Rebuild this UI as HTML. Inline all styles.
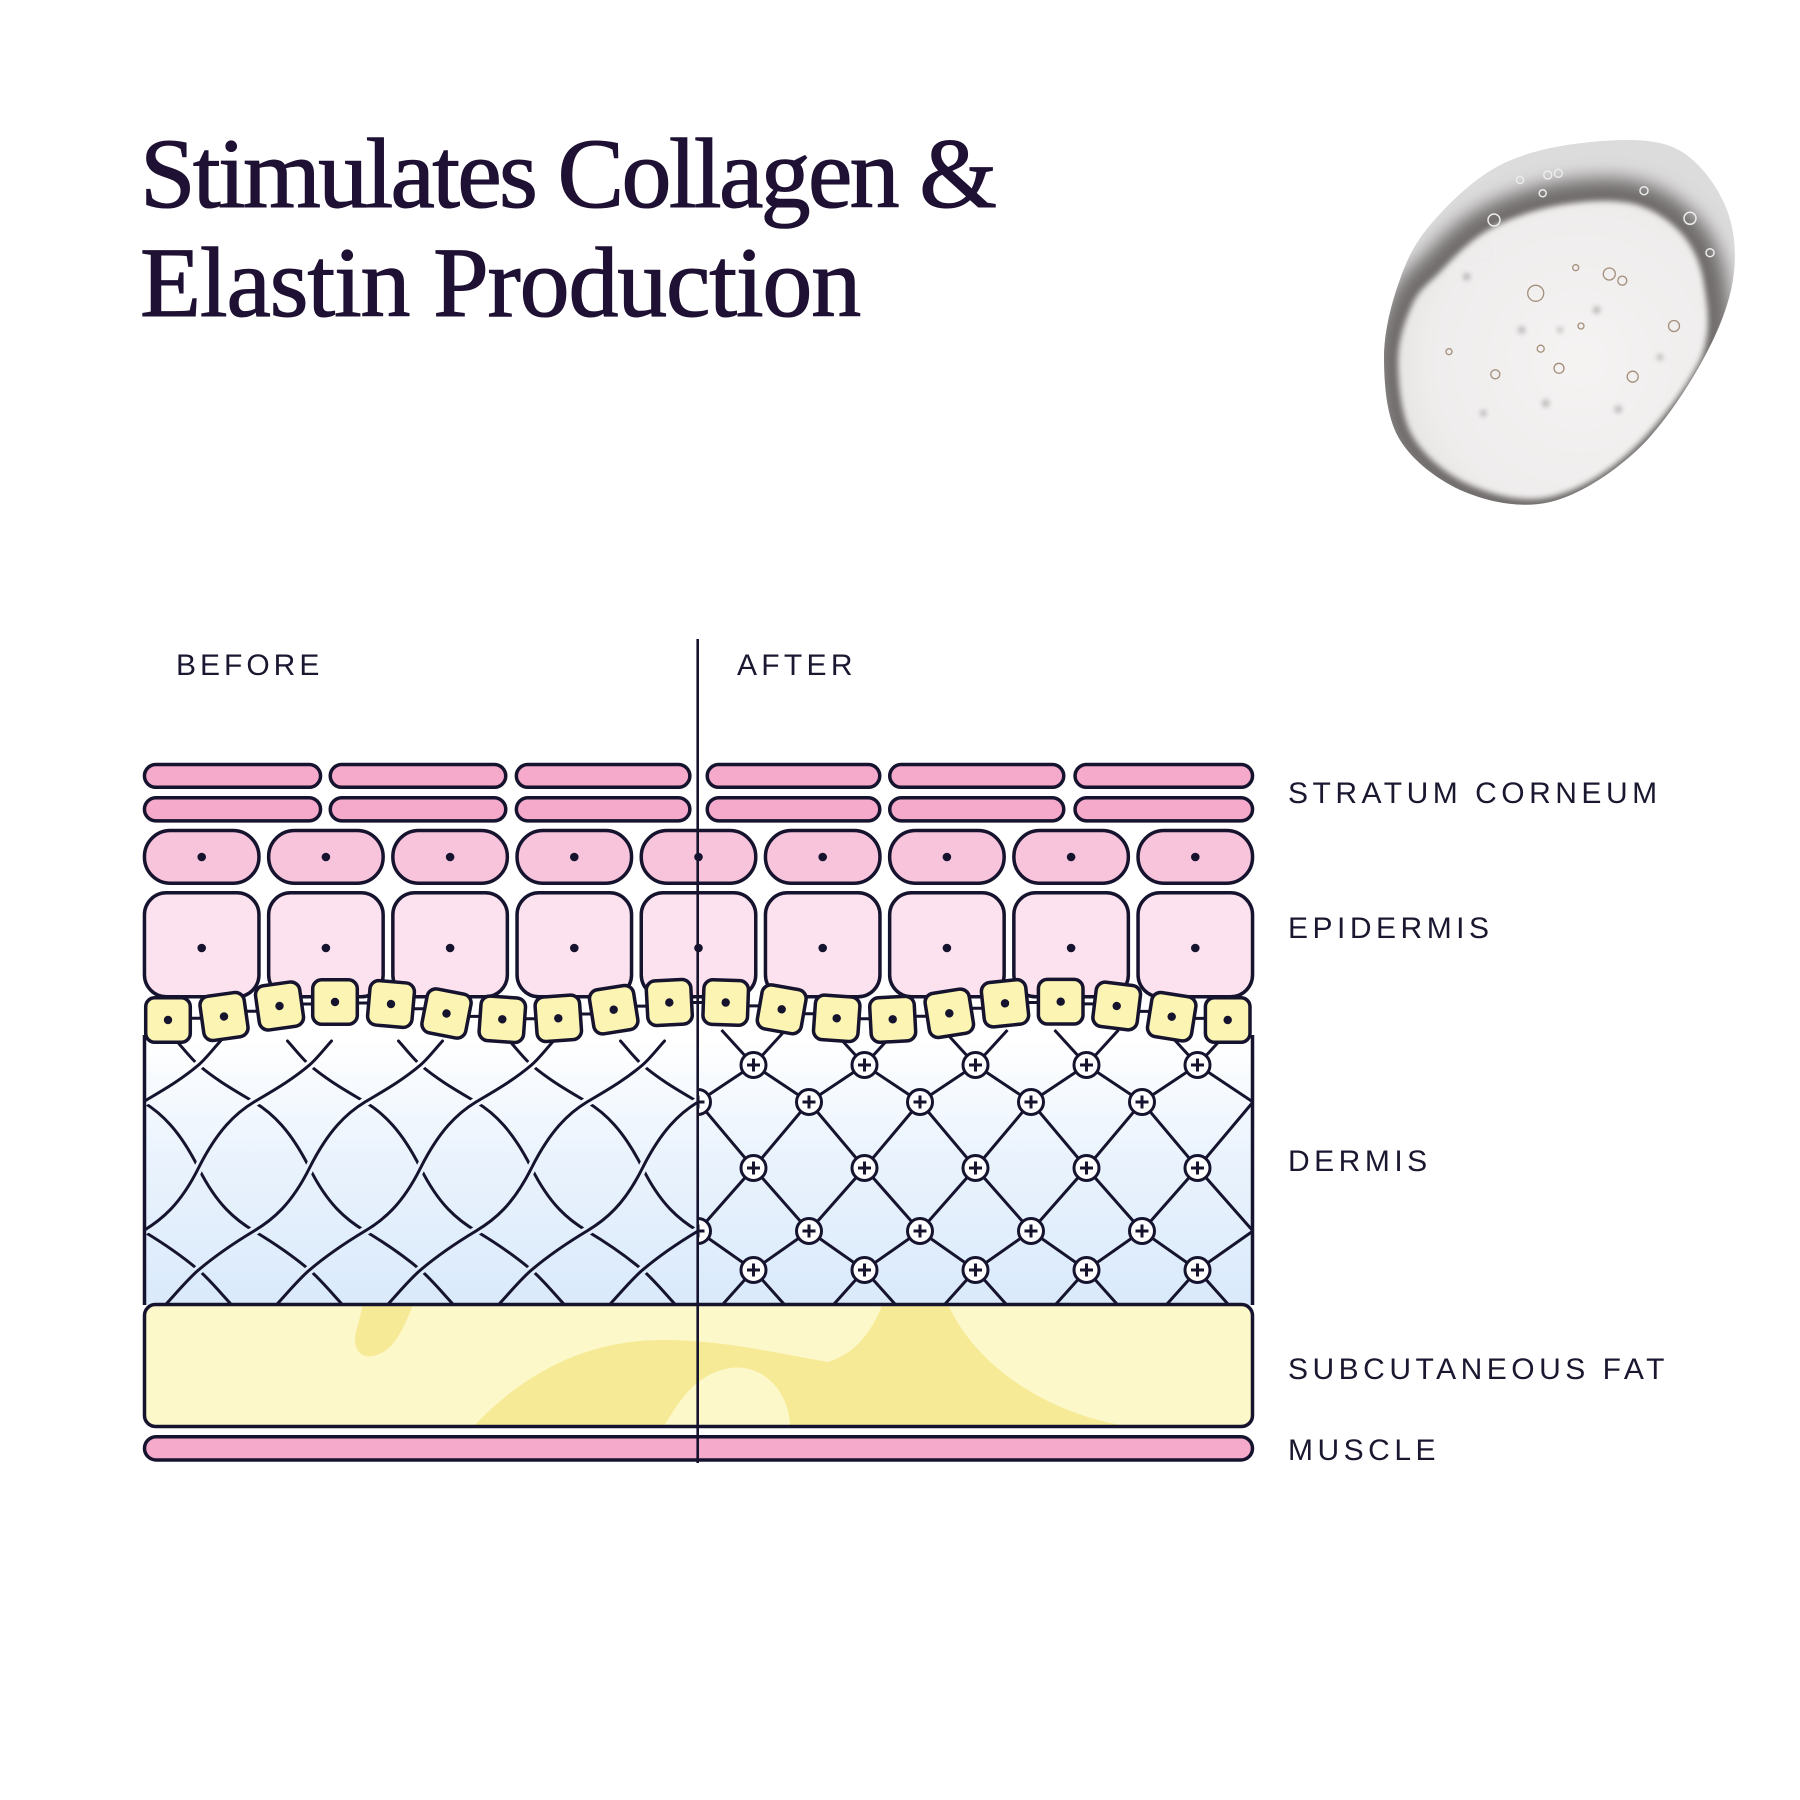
<!DOCTYPE html>
<html><head><meta charset="utf-8"><style>
html,body{margin:0;padding:0;background:#fff;}
svg{display:block;}
.h{fill:none;stroke:url(#dg);stroke-width:9;}
.l{fill:none;stroke:#15132e;stroke-width:3;stroke-linecap:round;}
.s{fill:none;stroke:#15132e;stroke-width:3;}
.lab{font-family:"Liberation Sans",Arial,sans-serif;font-size:30px;letter-spacing:4.5px;fill:#1a1830;}
</style></head><body>
<svg width="1800" height="1800" viewBox="0 0 1800 1800" xmlns="http://www.w3.org/2000/svg">
<defs>
<linearGradient id="dg" gradientUnits="userSpaceOnUse" x1="0" y1="1040" x2="0" y2="1300">
<stop offset="0" stop-color="#ffffff"/><stop offset="0.45" stop-color="#eaf3fd"/><stop offset="1" stop-color="#daeafb"/>
</linearGradient>
<radialGradient id="inn" gradientUnits="userSpaceOnUse" cx="1580" cy="360" r="190">
<stop offset="0" stop-color="#f5f3f3"/><stop offset="0.8" stop-color="#efecec"/><stop offset="1" stop-color="#e6e3e3"/>
</radialGradient>
<filter id="soft" x="-10%" y="-10%" width="120%" height="120%"><feGaussianBlur stdDeviation="3"/></filter>
<filter id="rimblur" filterUnits="userSpaceOnUse" x="1330" y="90" width="460" height="470"><feGaussianBlur stdDeviation="9"/></filter>
<filter id="spot" x="-100%" y="-100%" width="300%" height="300%"><feGaussianBlur stdDeviation="2.5"/></filter>
<path id="bout" d="M1430,225 C1447,205 1473.3,178.8 1500,165 C1526.7,151.2 1560.8,144.8 1590,142 C1619.2,139.2 1652.5,137.5 1675,148 C1697.5,158.5 1715.3,183 1725,205 C1734.7,227 1737.2,253.3 1733,280 C1728.8,306.7 1716.3,336.3 1700,365 C1683.7,393.7 1660,429.2 1635,452 C1610,474.8 1578.3,495.3 1550,502 C1521.7,508.7 1490,502.3 1465,492 C1440,481.7 1413.5,462 1400,440 C1386.5,418 1384.3,385.8 1384,360 C1383.7,334.2 1390.3,307.5 1398,285 C1405.7,262.5 1413,245 1430,225 Z"/>
<path id="binn" d="M1440,272 C1453,258 1470,240 1490,229 C1510,218 1536.7,209 1560,205 C1583.3,201 1610,199 1630,203 C1650,207 1668,219 1681,233 C1693,246 1701,264 1704,284 C1707,304 1712,327 1702,356 C1690,384 1659,424 1634,448 C1609,472 1578,491 1550,497 C1523,503 1492.8,495 1470,485 C1447.2,475 1425,457 1413,437 C1401,417 1398.2,384 1398,362 C1397.8,340.3 1405,320.3 1412,305 C1419,289.7 1427,285 1440,272 Z"/>
<clipPath id="bclip"><use href="#bout"/></clipPath>
<clipPath id="cb"><rect x="143.5" y="1020" width="554.2" height="285"/></clipPath>
<clipPath id="ca"><rect x="697.7" y="1020" width="555" height="285"/></clipPath>
<clipPath id="cf"><rect x="146" y="1306" width="1105" height="119" rx="9"/></clipPath>
<path id="dr" d="M-22,1041 C-14.7,1049 -7.3,1058.8 0,1065 C18.5,1080.7 37,1090.9 55.5,1102 C74,1113.1 92.5,1131 111,1168 C129.5,1205 148,1219.9 166.5,1231 C185,1242.1 203.5,1254.3 222,1270 C233,1279.4 244,1292.9 258,1308"/>
<path id="sr" d="M-32,1030 L0,1065 L55.5,1102 L111,1168 L166.5,1231 L222,1270 L256,1308"/>
<g id="nd"><circle r="12.5" fill="#fff" stroke="#15132e" stroke-width="3"/><path d="M-6.5,0H6.5M0,-6.5V6.5" stroke="#15132e" stroke-width="3" fill="none"/></g>
<g id="yc"><rect x="-22.3" y="-22.3" width="44.6" height="44.6" rx="9" fill="#fbf4b2" stroke="#15132e" stroke-width="3.5"/><circle r="4.2" fill="#15132e"/></g>
</defs>

<!-- Title -->
<text x="140" y="207" font-family="'Liberation Serif','Times New Roman',serif" font-size="100" letter-spacing="-2.7" fill="#1f1133" stroke="#1f1133" stroke-width="1.1">Stimulates Collagen &amp;</text>
<text x="140" y="316" font-family="'Liberation Serif','Times New Roman',serif" font-size="100" letter-spacing="-1.2" fill="#1f1133" stroke="#1f1133" stroke-width="1.1">Elastin Production</text>

<!-- Gel blob -->
<g clip-path="url(#bclip)">
<use href="#bout" fill="#dddcdc"/>
<use href="#binn" fill="none" stroke="#6f6c6c" stroke-width="46" filter="url(#rimblur)"/>
<use href="#binn" fill="url(#inn)" filter="url(#soft)"/>
</g>
<g fill="#8f8c8c" opacity="0.5" filter="url(#spot)">
<circle cx="1521.7" cy="330" r="4"/><circle cx="1545.7" cy="403.3" r="4"/><circle cx="1618.3" cy="409.3" r="4"/><circle cx="1596.7" cy="310" r="4"/><circle cx="1660" cy="357.3" r="3.5"/><circle cx="1483.3" cy="413.3" r="3.5"/><circle cx="1466.7" cy="276.7" r="4"/><circle cx="1560" cy="330" r="3"/>
</g>
<g fill="none" stroke="#a38f7a" stroke-width="1.3">
<circle cx="1535.7" cy="293.3" r="8"/><circle cx="1609.3" cy="274" r="6"/><circle cx="1622.3" cy="280.7" r="4.5"/><circle cx="1674" cy="326" r="5.5"/><circle cx="1632.7" cy="376.7" r="5.5"/><circle cx="1559" cy="368.3" r="5"/><circle cx="1495.3" cy="374.3" r="4.5"/><circle cx="1581" cy="326" r="3"/><circle cx="1540.7" cy="348.7" r="3.5"/><circle cx="1449" cy="351.7" r="3"/><circle cx="1575.7" cy="267.7" r="3"/>
</g>
<g fill="none" stroke="#ececec" stroke-width="1.5">
<circle cx="1483.3" cy="253.3" r="8"/><circle cx="1494" cy="220" r="6"/><circle cx="1690" cy="218.3" r="6"/><circle cx="1644" cy="190.7" r="4"/><circle cx="1710" cy="252.7" r="4"/><circle cx="1547.7" cy="175" r="4"/><circle cx="1558.3" cy="173.3" r="4"/><circle cx="1520" cy="180" r="3.5"/><circle cx="1542.7" cy="193.3" r="3.5"/><circle cx="1470" cy="262" r="3"/>
</g>

<!-- Dermis background -->
<rect x="143.5" y="1025" width="1109" height="280" fill="url(#dg)"/>

<!-- Before lattice -->
<g clip-path="url(#cb)">
<use href="#dr" x="-23.5" class="h"/><use href="#dr" x="-23.5" class="l"/>
<use href="#dr" x="87.5" class="h"/><use href="#dr" x="87.5" class="l"/>
<use href="#dr" x="198.5" class="h"/><use href="#dr" x="198.5" class="l"/>
<use href="#dr" x="309.5" class="h"/><use href="#dr" x="309.5" class="l"/>
<use href="#dr" x="420.5" class="h"/><use href="#dr" x="420.5" class="l"/>
<use href="#dr" x="531.5" class="h"/><use href="#dr" x="531.5" class="l"/>
<use href="#dr" x="642.5" class="h"/><use href="#dr" x="642.5" class="l"/>
<use href="#dr" transform="translate(198.5 0) scale(-1 1)" class="h"/><use href="#dr" transform="translate(198.5 0) scale(-1 1)" class="l"/>
<use href="#dr" transform="translate(309.5 0) scale(-1 1)" class="h"/><use href="#dr" transform="translate(309.5 0) scale(-1 1)" class="l"/>
<use href="#dr" transform="translate(420.5 0) scale(-1 1)" class="h"/><use href="#dr" transform="translate(420.5 0) scale(-1 1)" class="l"/>
<use href="#dr" transform="translate(531.5 0) scale(-1 1)" class="h"/><use href="#dr" transform="translate(531.5 0) scale(-1 1)" class="l"/>
<use href="#dr" transform="translate(642.5 0) scale(-1 1)" class="h"/><use href="#dr" transform="translate(642.5 0) scale(-1 1)" class="l"/>
<use href="#dr" transform="translate(753.5 0) scale(-1 1)" class="h"/><use href="#dr" transform="translate(753.5 0) scale(-1 1)" class="l"/>
<use href="#dr" transform="translate(864.5 0) scale(-1 1)" class="h"/><use href="#dr" transform="translate(864.5 0) scale(-1 1)" class="l"/>
</g>

<!-- After lattice -->
<g clip-path="url(#ca)">
<use href="#sr" x="531.5" class="s"/><use href="#sr" x="642.5" class="s"/><use href="#sr" x="753.5" class="s"/><use href="#sr" x="864.5" class="s"/><use href="#sr" x="975.5" class="s"/><use href="#sr" x="1086.5" class="s"/><use href="#sr" x="1197.5" class="s"/>
<use href="#sr" transform="translate(753.5 0) scale(-1 1)" class="s"/><use href="#sr" transform="translate(864.5 0) scale(-1 1)" class="s"/><use href="#sr" transform="translate(975.5 0) scale(-1 1)" class="s"/><use href="#sr" transform="translate(1086.5 0) scale(-1 1)" class="s"/><use href="#sr" transform="translate(1197.5 0) scale(-1 1)" class="s"/><use href="#sr" transform="translate(1308.5 0) scale(-1 1)" class="s"/><use href="#sr" transform="translate(1419.5 0) scale(-1 1)" class="s"/>
<use href="#nd" x="753.5" y="1065"/><use href="#nd" x="864.5" y="1065"/><use href="#nd" x="975.5" y="1065"/><use href="#nd" x="1086.5" y="1065"/><use href="#nd" x="1197.5" y="1065"/>
<use href="#nd" x="698" y="1102"/><use href="#nd" x="809" y="1102"/><use href="#nd" x="920" y="1102"/><use href="#nd" x="1031" y="1102"/><use href="#nd" x="1142" y="1102"/>
<use href="#nd" x="753.5" y="1168"/><use href="#nd" x="864.5" y="1168"/><use href="#nd" x="975.5" y="1168"/><use href="#nd" x="1086.5" y="1168"/><use href="#nd" x="1197.5" y="1168"/>
<use href="#nd" x="698" y="1231"/><use href="#nd" x="809" y="1231"/><use href="#nd" x="920" y="1231"/><use href="#nd" x="1031" y="1231"/><use href="#nd" x="1142" y="1231"/>
<use href="#nd" x="753.5" y="1270"/><use href="#nd" x="864.5" y="1270"/><use href="#nd" x="975.5" y="1270"/><use href="#nd" x="1086.5" y="1270"/><use href="#nd" x="1197.5" y="1270"/>
</g>

<!-- Dermis borders -->
<path d="M144.5,1035V1305M1252.5,1035V1305" stroke="#15132e" stroke-width="3.5" fill="none"/>

<!-- Subcutaneous fat -->
<rect x="144.5" y="1304.5" width="1108" height="122" rx="11" fill="#fcf8c9"/>
<g clip-path="url(#cf)" fill="#f7ea96">
<path d="M468,1432 C505,1392 560,1348 640,1341 C705,1336 770,1352 828,1362 C860,1352 875,1325 884,1300 L946,1300 C972,1362 1040,1410 1120,1425 L1260,1432 Z"/>
<path d="M364,1300 L415,1300 C405,1325 395,1352 373,1356 C356,1359 352,1342 357,1328 C360,1318 362,1308 364,1300 Z"/>
<path fill="#fcf8c9" d="M660,1432 C675,1410 690,1375 730,1368 C765,1363 792,1395 790,1432 Z"/>
</g>
<rect x="144.5" y="1304.5" width="1108" height="122" rx="11" fill="none" stroke="#15132e" stroke-width="3.5"/>

<!-- Muscle -->
<rect x="144.5" y="1436.75" width="1108" height="23.2" rx="11.6" fill="#f5a9cb" stroke="#15132e" stroke-width="3.5"/>

<!-- Epidermis row 2 -->
<g fill="#fbe2ee" stroke="#15132e" stroke-width="3.5">
<rect x="144.45" y="892.8" width="114.5" height="104" rx="22"/><rect x="268.65" y="892.8" width="114.5" height="104" rx="22"/><rect x="392.85" y="892.8" width="114.5" height="104" rx="22"/><rect x="517.05" y="892.8" width="114.5" height="104" rx="22"/><rect x="641.25" y="892.8" width="114.5" height="104" rx="22"/><rect x="765.45" y="892.8" width="114.5" height="104" rx="22"/><rect x="889.65" y="892.8" width="114.5" height="104" rx="22"/><rect x="1013.85" y="892.8" width="114.5" height="104" rx="22"/><rect x="1138.05" y="892.8" width="114.5" height="104" rx="22"/>
</g>
<!-- Epidermis row 1 -->
<g fill="#f8c4dc" stroke="#15132e" stroke-width="3.5">
<rect x="144.45" y="830.5" width="114.5" height="52.7" rx="26"/><rect x="268.65" y="830.5" width="114.5" height="52.7" rx="26"/><rect x="392.85" y="830.5" width="114.5" height="52.7" rx="26"/><rect x="517.05" y="830.5" width="114.5" height="52.7" rx="26"/><rect x="641.25" y="830.5" width="114.5" height="52.7" rx="26"/><rect x="765.45" y="830.5" width="114.5" height="52.7" rx="26"/><rect x="889.65" y="830.5" width="114.5" height="52.7" rx="26"/><rect x="1013.85" y="830.5" width="114.5" height="52.7" rx="26"/><rect x="1138.05" y="830.5" width="114.5" height="52.7" rx="26"/>
</g>
<g fill="#15132e">
<circle cx="201.7" cy="857" r="4.3"/><circle cx="325.9" cy="857" r="4.3"/><circle cx="450.1" cy="857" r="4.3"/><circle cx="574.3" cy="857" r="4.3"/><circle cx="698.5" cy="857" r="4.3"/><circle cx="822.7" cy="857" r="4.3"/><circle cx="946.9" cy="857" r="4.3"/><circle cx="1071.1" cy="857" r="4.3"/><circle cx="1195.3" cy="857" r="4.3"/>
<circle cx="201.7" cy="948" r="4.3"/><circle cx="325.9" cy="948" r="4.3"/><circle cx="450.1" cy="948" r="4.3"/><circle cx="574.3" cy="948" r="4.3"/><circle cx="698.5" cy="948" r="4.3"/><circle cx="822.7" cy="948" r="4.3"/><circle cx="946.9" cy="948" r="4.3"/><circle cx="1071.1" cy="948" r="4.3"/><circle cx="1195.3" cy="948" r="4.3"/>
</g>

<!-- Stratum corneum -->
<g fill="#f5a9cb" stroke="#15132e" stroke-width="3.5">
<rect x="144.45" y="764.5" width="176.1" height="22.8" rx="11.4"/><rect x="330.25" y="764.5" width="175.5" height="22.8" rx="11.4"/><rect x="516.35" y="764.5" width="173.5" height="22.8" rx="11.4"/><rect x="707.25" y="764.5" width="172.5" height="22.8" rx="11.4"/><rect x="889.75" y="764.5" width="174" height="22.8" rx="11.4"/><rect x="1075.05" y="764.5" width="177.5" height="22.8" rx="11.4"/>
<rect x="144.45" y="797.8" width="176.1" height="23.1" rx="11.5"/><rect x="330.25" y="797.8" width="175.5" height="23.1" rx="11.5"/><rect x="516.35" y="797.8" width="173.5" height="23.1" rx="11.5"/><rect x="707.25" y="797.8" width="172.5" height="23.1" rx="11.5"/><rect x="889.75" y="797.8" width="174" height="23.1" rx="11.5"/><rect x="1075.05" y="797.8" width="177.5" height="23.1" rx="11.5"/>
</g>

<!-- Yellow basal cells -->
<path fill="none" stroke="#15132e" stroke-width="3" d="M168,1018.3H224M224,1011.3H279.5M279.5,1004H335M335,1003H391M391,1008.8H446.5M446.5,1016.4H502.3M502.3,1018.8H558.3M558.3,1014H613.7M613.7,1006.1H669.3M669.3,1002.5H725.7M725.7,1005.9H781.7M781.7,1013.8H836.7M836.7,1018.8H892.7M892.7,1016.3H949.3M949.3,1008.3H1005M1005,1002.5H1060.7M1060.7,1003.9H1116.7M1116.7,1011.4H1171.7M1171.7,1018.4H1227.7"/>
<use href="#yc" transform="translate(168 1020) rotate(0)"/>
<use href="#yc" transform="translate(224 1016.5) rotate(-8)"/>
<use href="#yc" transform="translate(279.5 1006) rotate(-8)"/>
<use href="#yc" transform="translate(335 1002) rotate(0)"/>
<use href="#yc" transform="translate(391 1004) rotate(5)"/>
<use href="#yc" transform="translate(446.5 1013.5) rotate(11)"/>
<use href="#yc" transform="translate(502.3 1019.3) rotate(4)"/>
<use href="#yc" transform="translate(558.3 1018.3) rotate(-4)"/>
<use href="#yc" transform="translate(613.7 1009.7) rotate(-9)"/>
<use href="#yc" transform="translate(669.3 1002.5) rotate(-3)"/>
<use href="#yc" transform="translate(725.7 1002.5) rotate(2)"/>
<use href="#yc" transform="translate(781.7 1009.3) rotate(10)"/>
<use href="#yc" transform="translate(836.7 1018.3) rotate(4)"/>
<use href="#yc" transform="translate(892.7 1019.3) rotate(-3)"/>
<use href="#yc" transform="translate(949.3 1013.3) rotate(-9)"/>
<use href="#yc" transform="translate(1005 1003.3) rotate(-6)"/>
<use href="#yc" transform="translate(1060.7 1001.7) rotate(0)"/>
<use href="#yc" transform="translate(1116.7 1006) rotate(7)"/>
<use href="#yc" transform="translate(1171.7 1016.7) rotate(9)"/>
<use href="#yc" transform="translate(1227.7 1020) rotate(0)"/>

<!-- Divider -->
<line x1="697.7" y1="639" x2="697.7" y2="1463" stroke="#15132e" stroke-width="2.6"/>

<!-- Labels -->
<text class="lab" x="176" y="675" style="letter-spacing:4px">BEFORE</text>
<text class="lab" x="737" y="675" style="letter-spacing:4.3px">AFTER</text>
<text class="lab" x="1288" y="803">STRATUM CORNEUM</text>
<text class="lab" x="1288" y="938">EPIDERMIS</text>
<text class="lab" x="1288" y="1171">DERMIS</text>
<text class="lab" x="1288" y="1379">SUBCUTANEOUS FAT</text>
<text class="lab" x="1288" y="1460">MUSCLE</text>
</svg>
</body></html>
